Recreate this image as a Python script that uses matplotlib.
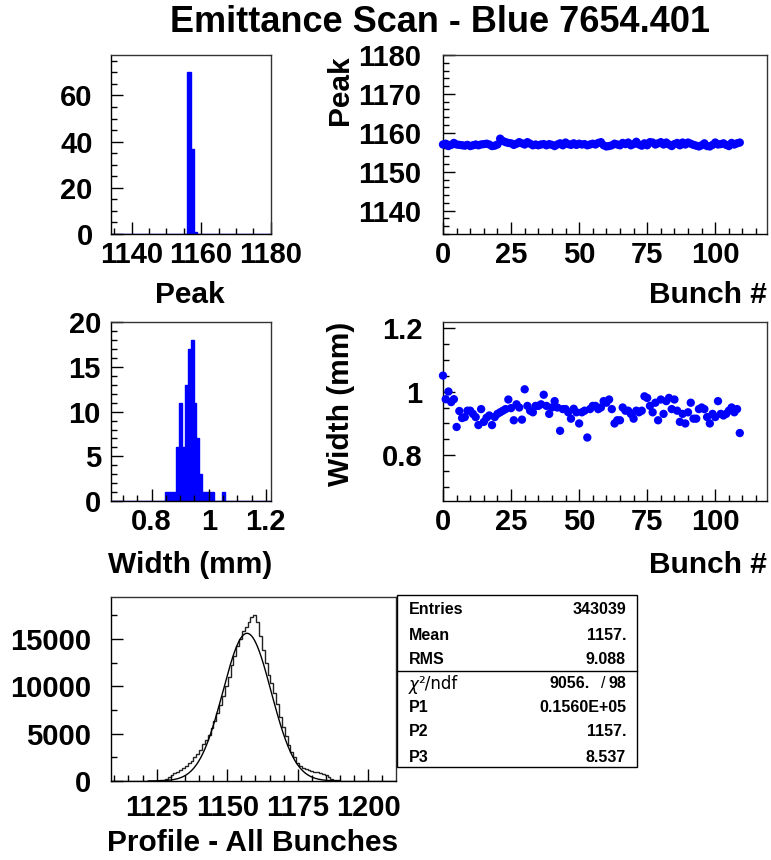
import numpy as np
import matplotlib
matplotlib.use("Agg")
import matplotlib.pyplot as plt
from matplotlib.ticker import MultipleLocator, FormatStrFormatter

plt.rcParams['font.family'] = ['Liberation Sans', 'DejaVu Sans']
plt.rcParams['font.weight'] = 'bold'

W, H = 771, 860
TICK_FS = 21
LABEL_FS = 21.5

# Per-bunch fit results
bunch = list(range(110))
peak = [1157.0, 1157.2, 1156.6, 1156.9, 1157.4, 1157.0, 1156.9, 1156.8, 1156.7, 1156.9,
        1156.6, 1156.8, 1157.0, 1156.8, 1157.0, 1157.1, 1157.2, 1157.0, 1156.6, 1156.7,
        1157.0, 1158.5, 1157.9, 1157.6, 1157.4, 1157.3, 1156.9, 1157.2, 1157.6, 1157.3,
        1157.0, 1157.6, 1157.2, 1156.8, 1157.0, 1156.8, 1157.0, 1157.1, 1156.8, 1157.1,
        1156.9, 1156.6, 1157.0, 1157.3, 1156.8, 1157.5, 1157.1, 1156.9, 1157.3, 1156.9,
        1157.2, 1157.0, 1157.1, 1156.8, 1157.0, 1157.2, 1157.0, 1157.4, 1157.6, 1156.8,
        1156.5, 1156.6, 1156.8, 1157.2, 1157.0, 1156.8, 1157.4, 1157.1, 1157.5, 1156.8,
        1157.1, 1157.7, 1157.0, 1156.7, 1157.3, 1156.8, 1157.6, 1157.5, 1157.0, 1157.3,
        1157.6, 1157.0, 1157.5, 1157.0, 1156.6, 1157.1, 1157.4, 1156.8, 1157.5, 1157.0,
        1157.5, 1157.2, 1156.9, 1156.7, 1156.5, 1156.8, 1157.3, 1156.6, 1156.5, 1156.9,
        1157.5, 1157.0, 1157.1, 1157.3, 1156.9, 1156.6, 1157.4, 1157.0, 1157.3, 1157.5]
width = [1.050, 0.976, 1.000, 0.967, 0.976, 0.889, 0.939, 0.917, 0.920, 0.940,
         0.940, 0.930, 0.920, 0.895, 0.945, 0.905, 0.918, 0.925, 0.895, 0.920,
         0.930, 0.935, 0.940, 0.945, 0.975, 0.948, 0.910, 0.960, 0.950, 0.912,
         1.007, 0.955, 0.940, 0.935, 0.955, 0.955, 0.960, 0.990, 0.955, 0.930,
         0.950, 0.970, 0.950, 0.877, 0.945, 0.945, 0.935, 0.915, 0.946, 0.935,
         0.900, 0.935, 0.940, 0.856, 0.945, 0.955, 0.955, 0.945, 0.950, 0.970,
         0.965, 0.975, 0.945, 0.900, 0.910, 0.910, 0.950, 0.940, 0.940, 0.930,
         0.915, 0.940, 0.935, 0.940, 0.985, 0.980, 0.955, 0.935, 0.965, 0.910,
         0.975, 0.930, 0.970, 0.980, 0.945, 0.975, 0.940, 0.905, 0.930, 0.900,
         0.935, 0.965, 0.915, 0.915, 0.945, 0.950, 0.945, 0.920, 0.900, 0.930,
         0.920, 0.970, 0.930, 0.925, 0.930, 0.940, 0.950, 0.935, 0.945, 0.870]

# Histograms of the per-bunch results
peak_range = (1134.0, 1180.0)
peak_counts = [0] * 24 + [70, 37, 1] + [0] * 23
width_range = (0.657, 1.217)
width_counts = ([0] * 19 + [1, 1, 1, 1, 6, 11, 6, 13, 17, 18, 11, 7, 3, 1, 1, 1, 1]
                + [0] * 3 + [1] + [0] * 16)

# Profile summed over all bunches
prof_range = (1108.7, 1209.8)
prof_counts = ([0] * 15 +
               [20, 40, 80, 150, 250, 400, 600, 800, 1000, 1200,
                1350, 1600, 1900, 2100, 2500, 2900, 3300, 3900, 4300, 4900,
                5600, 6300, 7200, 8000, 9000, 10000, 11000, 12200, 13200, 14300,
                15000, 15800, 16300, 16800, 17300, 17500, 16800, 15300, 13800, 12500,
                11200, 10300, 9300, 8100, 6800, 5700, 4700, 3800, 3100, 2500,
                1900, 1600, 1400, 1300, 1200, 1100, 1000, 900, 850, 750,
                600, 400, 250, 150, 80, 40, 20] + [0] * 18)
fit_p1, fit_p2, fit_p3 = 0.1560e5, 1157.0, 8.537
stats = [("Entries", "343039"), ("Mean", "1157."), ("RMS", "9.088")]
fit_rows = [("P1", "0.1560E+05"), ("P2", "1157."), ("P3", "8.537")]
chi2, ndf = "9056.", "98"


def px_axes(l, t, r, b):
    return fig.add_axes([l / W, 1 - b / H, (r - l) / W, (b - t) / H])


def root_style(ax, xmaj, xmin, ymaj, ymin, xpad=5, ypad=12):
    ax.xaxis.set_major_locator(MultipleLocator(xmaj))
    ax.xaxis.set_minor_locator(MultipleLocator(xmin))
    ax.yaxis.set_major_locator(MultipleLocator(ymaj))
    ax.yaxis.set_minor_locator(MultipleLocator(ymin))
    ax.tick_params(which='both', direction='in', top=False, right=False,
                   width=1, labelsize=TICK_FS)
    ax.tick_params(axis='x', which='major', length=8.6, pad=xpad)
    ax.tick_params(axis='y', which='major', length=8.6, pad=ypad)
    ax.tick_params(which='minor', length=4.3)
    for s in ax.spines.values():
        s.set_linewidth(1)
        s.set_color('#333333')
    ax.spines['left'].set_color('black')
    ax.spines['bottom'].set_color('black')


def ftext(x, y, s, **kw):
    fig.text(x / W, 1 - y / H, s, **kw)


fig = plt.figure(figsize=(W / 100, H / 100), dpi=100)
ftext(440, 23, "Emittance Scan - Blue 7654.401", fontsize=26, ha='center', va='center')

# Peak histogram
ax1 = px_axes(110.7, 55, 270.7, 234)
edges = np.linspace(*peak_range, len(peak_counts) + 1)
ax1.stairs(peak_counts, edges, fill=True, color='blue')
ax1.stairs(peak_counts, edges, color='blue', lw=1)
ax1.set_xlim(peak_range)
ax1.set_ylim(0, 77.5)
root_style(ax1, 20, 5, 20, 5, ypad=13)
ftext(190, 295, "Peak", fontsize=LABEL_FS, ha='center', va='center')

# Peak vs bunch
ax2 = px_axes(443, 55, 767, 234)
ax2.scatter(bunch, peak, s=36, color='blue', edgecolors='none', zorder=3, clip_on=False)
ax2.set_xlim(0, 119)
ax2.set_ylim(1134, 1180)
root_style(ax2, 25, 5, 10, 2, ypad=16)
ftext(767, 295, "Bunch #", fontsize=LABEL_FS, ha='right', va='center')
ftext(340, 55, "Peak", fontsize=LABEL_FS, ha='center', va='top', rotation=90)

# Width histogram
ax3 = px_axes(110.7, 322.3, 270.7, 501)
edges = np.linspace(*width_range, len(width_counts) + 1)
ax3.stairs(width_counts, edges, fill=True, color='blue')
ax3.stairs(width_counts, edges, color='blue', lw=1)
ax3.set_xlim(width_range)
ax3.set_ylim(0, 20)
root_style(ax3, 0.2, 0.05, 5, 1, ypad=7)
ax3.xaxis.set_major_formatter(FormatStrFormatter('%g'))
ftext(190, 565, "Width (mm)", fontsize=LABEL_FS, ha='center', va='center')

# Width vs bunch
ax4 = px_axes(443, 322.3, 767, 501)
ax4.scatter(bunch, width, s=36, color='blue', edgecolors='none', zorder=3, clip_on=False)
ax4.set_xlim(0, 119)
ax4.set_ylim(width_range)
root_style(ax4, 25, 5, 0.2, 0.05, ypad=15)
ax4.yaxis.set_major_formatter(FormatStrFormatter('%g'))
ftext(767, 565, "Bunch #", fontsize=LABEL_FS, ha='right', va='center')
ftext(341, 322, "Width (mm)", fontsize=LABEL_FS, ha='center', va='top', rotation=90)

# Profile over all bunches with gaussian fit
ax5 = px_axes(110.7, 597.3, 396, 781)
edges = np.linspace(*prof_range, len(prof_counts) + 1)
ax5.stairs(prof_counts, edges, color='#222222', lw=1)
xf = np.linspace(1122, 1190, 300)
ax5.plot(xf, fit_p1 * np.exp(-0.5 * ((xf - fit_p2) / fit_p3) ** 2), color='black', lw=1)
ax5.set_xlim(prof_range)
ax5.set_ylim(0, 19400)
root_style(ax5, 25, 5, 5000, 2500, xpad=9, ypad=14)
ftext(253, 843, "Profile - All Bunches", fontsize=LABEL_FS, ha='center', va='center')

# Statistics box
box = plt.Rectangle((396.7 / W, 1 - 767 / H), (637 - 396.7) / W, (767 - 595) / H,
                    transform=fig.transFigure, facecolor='white', edgecolor='black', lw=1)
fig.add_artist(box)
fig.add_artist(plt.Line2D([396.7 / W, 637 / W], [1 - 671 / H, 1 - 671 / H],
                          transform=fig.transFigure, color='black', lw=1))
ys = [610, 635, 659]
for (k, v), y in zip(stats, ys):
    ftext(409, y, k, fontsize=11.5, ha='left', va='center')
    ftext(626, y, v, fontsize=11.5, ha='right', va='center')
ftext(409, 685, "\u03c7", fontsize=12, fontweight='normal', ha='left', va='center',
      family='DejaVu Sans', style='italic')
ftext(418, 684, "\u00b2/ndf", fontsize=12, fontweight='normal', ha='left', va='center',
      family='DejaVu Sans')
ftext(590, 684, chi2, fontsize=11.5, ha='right', va='center')
ftext(603, 684, "/", fontsize=11.5, fontweight='normal', ha='center', va='center')
ftext(626, 684, ndf, fontsize=11.5, ha='right', va='center')
for (k, v), y in zip(fit_rows, [708, 732, 757]):
    ftext(409, y, k, fontsize=11.5, ha='left', va='center')
    ftext(626, y, v, fontsize=11.5, ha='right', va='center')

fig.savefig("out.png", dpi=100)
